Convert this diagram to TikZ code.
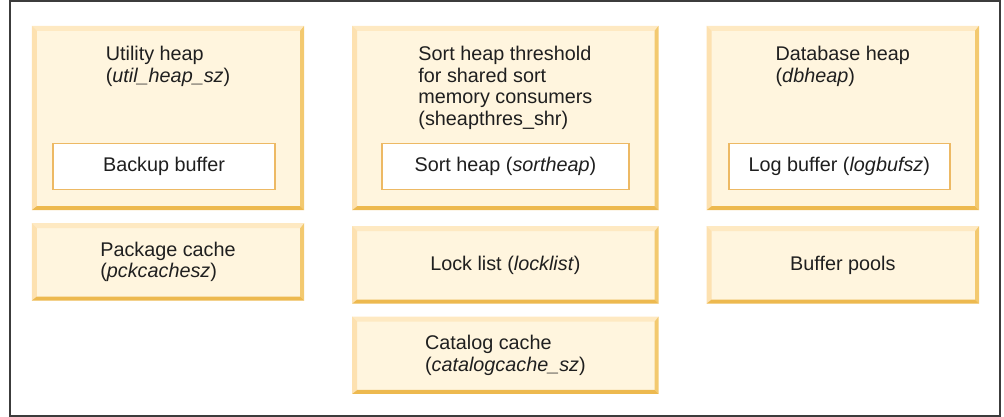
\documentclass[tikz,border=0pt]{standalone}
\usepackage{fontspec}
\setmainfont{Liberation Sans}
\usetikzlibrary{positioning}
\definecolor{heapfill}{HTML}{FFF5DE}
\definecolor{heaptop}{HTML}{FEE9C2}
\definecolor{heapleft}{HTML}{FDE1B0}
\definecolor{heapright}{HTML}{F3C96F}
\definecolor{heapbottom}{HTML}{EDB94F}
\definecolor{bufedge}{HTML}{EDB964}
\definecolor{framegray}{HTML}{3C3C3C}
\colorlet{ink}{black!88}
\tikzset{
  heap/.style={fill=heapfill, inner sep=0pt, align=left, minimum height=77pt},
  tall/.style={minimum height=184pt},
  buf/.style={draw=bufedge, line width=1.5pt, fill=white, minimum height=46pt, inner sep=0pt},
  heaptext/.style={inner sep=0pt, align=left}
}
\newcommand{\prm}[1]{\textit{#1}}

\begin{document}
\begin{tikzpicture}[x=1pt,y=1pt,font=\fontsize{19.8}{21.7}\selectfont,text=ink]
  \useasboundingbox (0,0) rectangle (1004,417);
  \draw[framegray,line width=2pt] (9.5,1) rectangle (999.5,416);
  \node[heap,tall,minimum width=272pt] (util) at (168,299) {};
  \node[heap,tall,minimum width=306pt,right=48pt of util] (sortthr) {};
  \node[heap,tall,minimum width=272pt,right=48pt of sortthr] (dbheap) {};
  \node[heap,minimum width=272pt,below=13pt of util] (pkg) {Package cache\\(\prm{pckcachesz})};
  \node[heap,minimum width=306pt,below=16pt of sortthr] (lock) {Lock list (\prm{locklist})};
  \node[heap,minimum width=272pt,below=16pt of dbheap] (bufpool) {Buffer pools};
  \node[heap,minimum width=306pt,below=13pt of lock] (catalog) {Catalog cache\\(\prm{catalogcache\_sz})};
  \foreach \n in {util,sortthr,dbheap,pkg,lock,bufpool,catalog}{
    \fill[heaptop] (\n.north west) -- (\n.north east) -- ([shift={(-4,-5)}]\n.north east) -- ([shift={(5,-5)}]\n.north west) -- cycle;
    \fill[heapleft] (\n.north west) -- ([shift={(5,-5)}]\n.north west) -- ([shift={(5,4)}]\n.south west) -- (\n.south west) -- cycle;
    \fill[heapright] (\n.north east) -- (\n.south east) -- ([shift={(-4,4)}]\n.south east) -- ([shift={(-4,-5)}]\n.north east) -- cycle;
    \fill[heapbottom] (\n.south west) -- (\n.south east) -- ([shift={(-4,4)}]\n.south east) -- ([shift={(5,4)}]\n.south west) -- cycle;
  }
  \node[heaptext,below=20pt of util.north] (utiltext) {Utility heap\\(\prm{util\_heap\_sz})};
  \node[heaptext,below=20pt of sortthr.north] (sortthrtext) {Sort heap threshold\\for shared sort\\memory consumers\\(sheapthres\_shr)};
  \node[heaptext,below=20pt of dbheap.north] (dbheaptext) {Database heap\\(\prm{dbheap})};
  \node[buf,minimum width=222pt,above=20pt of util.south,xshift=-4pt] (backup) {Backup buffer};
  \node[buf,minimum width=247pt,above=20pt of sortthr.south] (sortheap) {Sort heap (\prm{sortheap})};
  \node[buf,minimum width=221pt,above=20pt of dbheap.south,xshift=-3.5pt] (logbuf) {Log buffer (\prm{logbufsz})};
\end{tikzpicture}
\end{document}
